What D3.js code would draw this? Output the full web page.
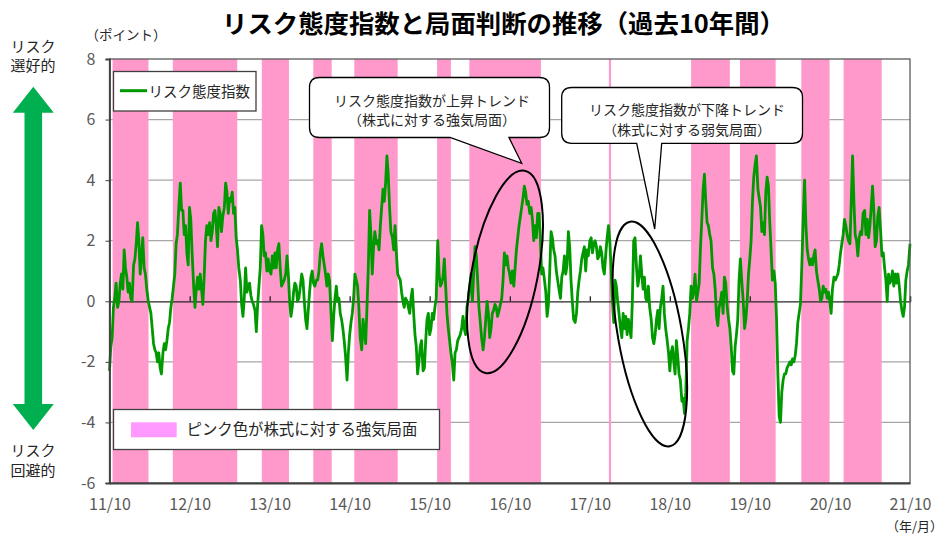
<!DOCTYPE html>
<html>
<head>
<meta charset="utf-8">
<script src="https://cdn.jsdelivr.net/npm/d3@7"></script>
<style>
  body { margin: 0; background: #fff; }
  text { font-family: "Noto Sans CJK JP", "Noto Sans", sans-serif; }
</style>
</head>
<body>
<div id="chart"></div>
<script>
// risk attitude index, sampled ~every 6 days (60 readings per year), Oct to Oct
const fy2011 = [-2.3,-1.5,-1.2,-0.2,0.1,0.6,-0.2,0.0,0.6,0.9, 0.4,1.7,1.1,0.8,0.3,0.6,0.1,0.0,1.2,1.4,
  1.9,2.6,2.0,0.9,1.5,2.1,1.1,0.9,0.4,0.0, -0.2,-0.4,-0.9,-1.4,-1.6,-1.7,-2.0,-1.7,-2.2,-2.4,
  -1.7,-1.4,-1.6,-1.3,-0.9,-0.7,-0.2,0.1,0.5,0.9, 1.9,2.2,3.2,3.9,3.0,3.0,2.2,2.5,1.6,1.2];
const fy2012 = [3.1,2.7,1.6,0.5,-0.2,0.4,0.8,0.4,0.9,0.4, -0.1,0.8,2.0,2.5,2.2,2.6,2.0,2.3,2.9,3.0,
  2.5,1.8,3.1,2.9,2.3,2.8,3.1,3.9,3.6,2.9, 3.4,3.3,3.6,2.9,3.1,2.1,1.7,1.1,0.7,-0.1,
  -0.5,0.1,1.1,0.3,0.5,0.6,0.2,0.0,-0.1,-0.3, -1.0,-0.1,0.5,1.1,2.5,2.2,1.5,1.6,1.0,1.4];
const fy2013 = [1.0,0.9,1.5,1.1,1.6,1.1,1.7,1.9,1.1,0.5, 0.6,0.7,0.9,1.5,0.9,0.0,-0.5,-0.2,0.3,0.6,
  0.5,0.0,0.1,0.5,0.9,0.7,0.0,-0.6,-0.9,-0.3, 0.3,0.8,1.0,0.6,0.5,0.7,0.7,1.0,1.6,1.9,
  1.5,1.2,0.9,0.5,0.9,0.7,-0.4,-1.3,-0.5,0.1, 0.5,0.0,0.1,-0.4,-0.6,-0.9,-1.3,-1.8,-2.6,-1.7];
const fy2014 = [-1.1,-0.7,-0.4,0.1,0.9,0.7,0.5,-0.2,-1.2,-1.6, -0.6,-1.0,-1.4,-0.2,1.1,3.0,2.2,0.9,1.8,2.3,
  1.9,2.0,1.7,2.5,3.1,3.7,3.3,3.9,4.8,4.2, 3.1,2.3,2.1,1.7,2.5,1.6,0.9,0.8,0.7,0.3,
  0.0,-0.2,0.1,0.0,-0.2,-0.4,0.1,0.4,-0.4,-1.1, -1.5,-2.4,-2.0,-1.5,-1.3,-2.3,-2.2,-1.3,-0.6,-0.4];
const fy2015 = [-1.1,-0.9,-0.4,-0.6,-0.2,0.1,2.0,0.9,0.5,0.6, 0.8,1.4,0.5,-0.4,-0.9,-1.3,-1.7,-2.0,-2.6,-1.7,
  -1.6,-1.3,-1.2,-1.1,-0.9,-0.5,-0.9,-1.1,-0.2,0.1, 0.5,0.9,0.0,0.9,1.8,1.5,0.7,-0.2,-0.7,-1.2,
  -1.6,-1.2,-0.6,0.0,-0.4,-1.2,-0.9,-0.4,-0.3,-0.1, -0.2,-0.5,-0.3,-0.1,0.1,0.7,1.6,1.2,1.5,1.1];
const fy2016 = [0.9,0.6,1.0,0.5,1.1,1.7,2.1,2.5,2.8,3.1, 3.4,3.8,3.6,3.2,3.3,2.9,3.1,2.7,2.0,2.5,
  2.1,2.9,2.9,2.1,0.9,1.1,0.7,0.3,-0.5,-0.1, 1.0,2.3,2.1,1.7,1.5,1.0,0.7,0.4,0.1,0.8,
  1.0,1.5,0.9,1.2,2.3,1.8,0.7,0.0,-0.6,-0.7, -0.4,0.3,0.7,1.0,1.4,1.6,1.8,1.0,1.7,1.5];
const fy2017 = [2.0,2.1,1.6,1.9,2.0,1.8,1.4,1.5,1.8,1.6, 1.1,0.9,1.6,2.1,2.5,2.0,1.1,0.0,-0.7,0.7,
  0.5,0.0,-0.4,-0.9,-1.2,-0.4,-0.9,-0.5,-1.1,-0.6, -0.9,-1.2,0.0,2.0,2.1,1.1,0.5,0.8,1.5,0.9,
  0.4,0.8,0.1,0.0,0.5,-0.2,-0.6,-1.2,-1.4,-1.1, -0.6,-0.3,-0.9,-0.2,0.1,0.5,-0.4,-0.9,-1.3,-1.7];
const fy2018 = [-2.3,-1.7,-1.5,-2.0,-2.4,-1.3,-1.8,-2.4,-2.6,-3.3, -3.2,-3.7,-3.0,-1.3,-0.9,-0.4,0.5,0.1,0.3,0.9,
  0.0,0.3,0.6,1.8,2.7,3.7,4.2,3.3,2.6,2.5, 2.2,2.0,1.1,0.9,0.4,-0.5,-0.8,-0.2,0.0,0.3,
  -0.4,0.8,0.6,-0.2,-0.6,-0.9,-1.5,-2.3,-2.4,-1.5, -1.1,-0.6,0.7,1.4,0.7,0.0,-0.9,-0.6,0.0,0.9];
const fy2019 = [1.4,2.0,3.3,4.1,4.5,4.8,3.7,3.4,3.1,2.3, 2.6,2.2,3.6,4.1,3.8,2.6,1.7,0.7,1.0,0.6,
  -0.6,-2.4,-3.8,-4.0,-3.0,-2.6,-2.4,-2.4,-2.2,-2.1, -2.0,-2.1,-1.9,-2.0,-1.8,-1.4,-0.7,-0.4,-0.1,1.1,
  2.8,4.0,2.5,1.7,1.4,1.2,1.4,1.2,1.5,1.7, 1.0,0.7,0.4,0.0,0.1,0.5,0.3,0.4,0.1,0.3];
const fy2020 = [0.0,-0.4,0.4,0.8,0.7,0.8,0.9,1.2,1.6,1.9, 2.2,2.7,2.5,2.2,2.0,1.9,3.3,4.8,3.3,2.2,
  2.0,1.5,2.1,2.3,2.2,2.9,3.0,2.2,2.7,2.1, 2.5,3.1,3.8,3.0,1.8,2.0,2.8,3.1,2.3,1.5,
  1.6,1.1,0.7,0.0,0.9,0.6,0.7,1.0,0.5,0.9, 0.6,0.9,0.5,0.0,-0.3,-0.5,-0.2,0.7,1.0,1.2, 1.9];

// bullish (pink) phases
const bullStart = ['2011-10-15','2012-07-16','2013-08-26','2014-04-18','2014-10-22','2015-11-04',
  '2016-03-30','2017-12-27','2019-01-06','2019-08-17','2020-05-23','2020-12-02'];
const bullEnd = ['2012-03-27','2013-05-06','2013-12-28','2014-07-11','2015-05-08','2016-01-06',
  '2017-02-20','2018-01-06','2019-07-02','2020-01-27','2020-09-29','2021-05-25'];

const xTickLabels = ['11/10','12/10','13/10','14/10','15/10','16/10','17/10','18/10','19/10','20/10','21/10'];
const yTicks = [-6,-4,-2,0,2,4,6,8];

const width = 947;
const height = 536;
const plot = {left: 109.5, right: 910, top: 59, bottom: 483};
const parse = d3.timeParse('%Y-%m-%d');
const start = new Date(2011, 9, 1);

const values = [].concat(fy2011, fy2012, fy2013, fy2014, fy2015, fy2016, fy2017, fy2018, fy2019, fy2020);
const series = values.map((v, i) => ({date: d3.timeDay.offset(start, Math.round(i * 365.25 / 60)), v: v}));
const tickDates = xTickLabels.map((t, i) => new Date(2011 + i, 9, 1));

const svg = d3.select('#chart').append('svg')
  .attr('width', width)
  .attr('height', height);

const x = d3.scaleTime()
  .domain([start, new Date(2021, 9, 1)])
  .range([plot.left, plot.right]);
const y = d3.scaleLinear()
  .domain([-6, 8])
  .range([plot.bottom, plot.top]);

// gridlines
svg.append('g').selectAll('line')
  .data(yTicks.filter(d => d !== 0 && d !== -6 && d !== 8))
  .enter().append('line')
  .attr('x1', plot.left).attr('x2', plot.right)
  .attr('y1', d => y(d)).attr('y2', d => y(d))
  .attr('stroke', '#a6a6a6').attr('stroke-width', 1.3);

// pink bands
svg.append('g').selectAll('rect')
  .data(bullStart.map((s, i) => ({s: parse(s), e: parse(bullEnd[i])})))
  .enter().append('rect')
  .attr('x', d => x(d.s))
  .attr('width', d => x(d.e) - x(d.s))
  .attr('y', plot.top)
  .attr('height', plot.bottom - plot.top)
  .attr('fill', '#ff99cc');

// zero line with year ticks
const zeroAxis = svg.append('g')
  .attr('transform', `translate(0,${y(0)})`)
  .call(d3.axisBottom(x).tickValues(tickDates).tickSize(-5).tickFormat(''));
zeroAxis.selectAll('path, line').attr('stroke', '#262626').attr('stroke-width', 1.3);

// data line
svg.append('path')
  .datum(series)
  .attr('fill', 'none')
  .attr('stroke', '#009900')
  .attr('stroke-width', 2.8)
  .attr('stroke-linejoin', 'round')
  .attr('d', d3.line().x(d => x(d.date)).y(d => y(d.v)));

// plot border
svg.append('rect')
  .attr('x', plot.left).attr('y', plot.top)
  .attr('width', plot.right - plot.left).attr('height', plot.bottom - plot.top)
  .attr('fill', 'none').attr('stroke', '#595959').attr('stroke-width', 1.3);

// axes
const yAxis = svg.append('g')
  .attr('transform', `translate(${plot.left},0)`)
  .call(d3.axisLeft(y).tickValues(yTicks).tickSize(4).tickPadding(10).tickFormat(d => String(d)));
const xAxis = svg.append('g')
  .attr('transform', `translate(0,${plot.bottom})`)
  .call(d3.axisBottom(x).tickValues(tickDates).tickSize(0).tickPadding(16)
    .tickFormat((d, i) => xTickLabels[i]));
[yAxis, xAxis].forEach(a => {
  a.select('.domain').attr('stroke', '#404040').attr('stroke-width', 1.8);
  a.selectAll('line').attr('stroke', '#404040');
  a.selectAll('text').attr('fill', '#595959').style('font-size', '16px')
    .style('font-family', '"Noto Sans CJK JP", sans-serif');
});

// title and axis captions
svg.append('text')
  .attr('x', 503.5).attr('y', 33)
  .attr('text-anchor', 'middle')
  .attr('textLength', 563).attr('lengthAdjust', 'spacingAndGlyphs')
  .style('font-size', '25px').style('font-weight', 700)
  .text('リスク態度指数と局面判断の推移（過去10年間）');
svg.append('text')
  .attr('x', 126).attr('y', 40).attr('text-anchor', 'middle')
  .style('font-size', '13.5px').attr('fill', '#262626')
  .text('（ポイント）');
svg.append('text')
  .attr('x', 943).attr('y', 531).attr('text-anchor', 'end')
  .style('font-size', '13px').attr('fill', '#262626')
  .text('（年/月）');

const sideLabels = [
  {t: 'リスク', y: 52}, {t: '選好的', y: 71},
  {t: 'リスク', y: 456}, {t: '回避的', y: 476}
];
svg.append('g').selectAll('text')
  .data(sideLabels)
  .enter().append('text')
  .attr('x', 33).attr('y', d => d.y)
  .attr('text-anchor', 'middle')
  .style('font-size', '15px').attr('fill', '#262626')
  .text(d => d.t);

// green double arrow
const ax = 33.3, aTop = 86.7, aBot = 430, headH = 26, headW = 20.5, shaftW = 8.8;
svg.append('path')
  .attr('fill', '#00b050')
  .attr('d', `M${ax},${aTop} L${ax + headW},${aTop + headH} L${ax + shaftW},${aTop + headH}
    L${ax + shaftW},${aBot - headH} L${ax + headW},${aBot - headH} L${ax},${aBot}
    L${ax - headW},${aBot - headH} L${ax - shaftW},${aBot - headH} L${ax - shaftW},${aTop + headH}
    L${ax - headW},${aTop + headH} Z`);

// legends
svg.append('rect')
  .attr('x', 113.5).attr('y', 71.5).attr('width', 142.5).attr('height', 39.5)
  .attr('fill', '#fff').attr('stroke', '#404040').attr('stroke-width', 1.3);
svg.append('line')
  .attr('x1', 120).attr('x2', 147).attr('y1', 90.7).attr('y2', 90.7)
  .attr('stroke', '#009900').attr('stroke-width', 3);
svg.append('text')
  .attr('x', 148.5).attr('y', 97)
  .style('font-size', '14.5px').attr('fill', '#262626')
  .text('リスク態度指数');

svg.append('rect')
  .attr('x', 113.5).attr('y', 409.5).attr('width', 326).attr('height', 40)
  .attr('fill', '#fff').attr('stroke', '#404040').attr('stroke-width', 1.3);
svg.append('rect')
  .attr('x', 131).attr('y', 422.3).attr('width', 45.7).attr('height', 15)
  .attr('fill', '#ff99ff');
svg.append('text')
  .attr('x', 186.5).attr('y', 434.5)
  .style('font-size', '15.4px').attr('fill', '#262626')
  .text('ピンク色が株式に対する強気局面');

// trend ellipses
const ellipses = [
  {date: '2016-09-09', v: 0.97, rx: 33, ry: 103, rot: 11},
  {date: '2018-07-02', v: -1.08, rx: 32, ry: 114, rot: -10}
];
svg.append('g').selectAll('ellipse')
  .data(ellipses)
  .enter().append('ellipse')
  .attr('transform', d => `translate(${x(parse(d.date))},${y(d.v)}) rotate(${d.rot})`)
  .attr('rx', d => d.rx).attr('ry', d => d.ry)
  .attr('fill', 'none').attr('stroke', '#000').attr('stroke-width', 2);

// callouts
const callouts = [
  {x0: 309.5, x1: 549.5, y0: 77.5, y1: 137.5, pL: 450, pR: 509, tip: [521.7, 163.3], tx: 432, ty: [106, 125],
    lines: ['リスク態度指数が上昇トレンド', '（株式に対する強気局面）']},
  {x0: 561.7, x1: 802.5, y0: 87.5, y1: 143.3, pL: 636.7, pR: 661.7, tip: [654.7, 229], tx: 687, ty: [115, 134.5],
    lines: ['リスク態度指数が下降トレンド', '（株式に対する弱気局面）']}
];
const r = 10;
callouts.forEach(c => {
  svg.append('path')
    .attr('fill', '#fff').attr('stroke', '#000').attr('stroke-width', 1.3)
    .attr('d', `M${c.x0 + r},${c.y0} L${c.x1 - r},${c.y0} Q${c.x1},${c.y0} ${c.x1},${c.y0 + r}
      L${c.x1},${c.y1 - r} Q${c.x1},${c.y1} ${c.x1 - r},${c.y1}
      L${c.pR},${c.y1} L${c.tip[0]},${c.tip[1]} L${c.pL},${c.y1}
      L${c.x0 + r},${c.y1} Q${c.x0},${c.y1} ${c.x0},${c.y1 - r}
      L${c.x0},${c.y0 + r} Q${c.x0},${c.y0} ${c.x0 + r},${c.y0} Z`);
  c.lines.forEach((t, i) => {
    svg.append('text')
      .attr('x', c.tx).attr('y', c.ty[i])
      .attr('text-anchor', 'middle')
      .style('font-size', '14px').attr('fill', '#262626')
      .text(t);
  });
});
</script>
</body>
</html>
